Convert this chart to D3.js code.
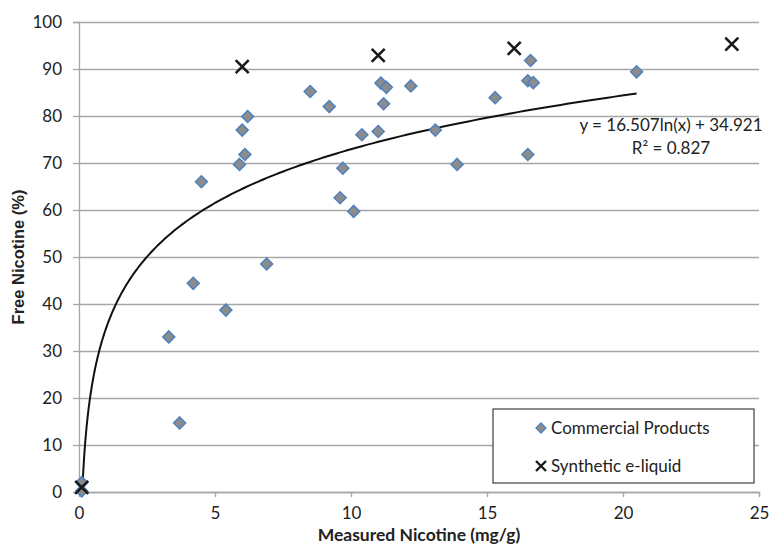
<!DOCTYPE html>
<html>
<head>
<meta charset="utf-8">
<script src="https://cdn.jsdelivr.net/npm/d3@7"></script>
<style>
  body { margin: 0; background: #fff; }
  text { font-family: Lato, "Open Sans", sans-serif; fill: #222; }
</style>
</head>
<body>
<div id="chart"></div>
<script>
// commercial products, measured vs free nicotine
var commercialX = [0.1, 0.1, 3.3, 3.7, 4.2, 4.5, 5.4, 5.9, 6.0, 6.1, 6.2, 6.9, 8.5, 9.2, 9.6, 9.7,
  10.1, 10.4, 11.0, 11.1, 11.2, 11.3, 12.2, 13.1, 13.9, 15.3, 16.5, 16.5, 16.6, 16.7, 20.5];
var commercialY = [2.0, 0.2, 33.0, 14.7, 44.4, 66.0, 38.7, 69.7, 77.0, 71.8, 79.9, 48.5, 85.2, 82.0, 62.6, 68.9,
  59.7, 76.0, 76.7, 87.0, 82.6, 86.1, 86.4, 77.0, 69.7, 83.9, 87.5, 71.8, 91.8, 87.1, 89.4];

var syntheticX = [0.1, 6.0, 11.0, 16.0, 24.0];
var syntheticY = [1.0, 90.5, 92.9, 94.4, 95.3];

// log trendline reported on the chart
var trendA = 16.507;
var trendB = 34.921;
var trendR2 = "0.827";

var xTicks = [0, 5, 10, 15, 20, 25];
var yTicks = [0, 10, 20, 30, 40, 50, 60, 70, 80, 90, 100];

var width = 769;
var height = 544;
var margin = {top: 22, right: 10, bottom: 52, left: 79};

var svg = d3.select("#chart").append("svg")
  .attr("width", width)
  .attr("height", height);

var x = d3.scaleLinear().domain([0, 25]).range([margin.left, width - margin.right]);
var y = d3.scaleLinear().domain([0, 100]).range([height - margin.bottom, margin.top]);

var gridColor = "#a6a6a6";

// horizontal gridlines + y ticks
svg.append("g")
  .attr("transform", "translate(" + margin.left + ",0)")
  .call(d3.axisLeft(y).tickValues(yTicks).tickSize(6).tickPadding(11))
  .call(function(g) {
    g.select(".domain").attr("stroke", gridColor).attr("stroke-width", 1.3);
    g.selectAll(".tick line").attr("stroke", gridColor).attr("stroke-width", 1.3);
    g.selectAll(".tick").append("line")
      .attr("x1", 0).attr("x2", x(25) - margin.left)
      .attr("stroke", gridColor).attr("stroke-width", 1.3);
    g.selectAll("text").attr("font-size", 17).attr("fill", "#222");
  });

svg.append("g")
  .attr("transform", "translate(0," + y(0) + ")")
  .call(d3.axisBottom(x).tickValues(xTicks).tickSize(5).tickPadding(10))
  .call(function(g) {
    g.select(".domain").attr("stroke", gridColor).attr("stroke-width", 1.3);
    g.selectAll(".tick line").attr("stroke", gridColor).attr("stroke-width", 1.3);
    g.selectAll("text").attr("font-size", 17).attr("fill", "#222");
  });

// axis titles
svg.append("text")
  .attr("x", x(12.5))
  .attr("y", 541)
  .attr("text-anchor", "middle")
  .attr("font-size", 17.5)
  .attr("font-weight", "bold")
  .text("Measured Nicotine (mg/g)");

svg.append("text")
  .attr("transform", "translate(24," + y(50) + ") rotate(-90)")
  .attr("text-anchor", "middle")
  .style("font-family", "'Liberation Sans', Arial, sans-serif")
  .attr("font-size", 16.5)
  .attr("font-weight", "bold")
  .text("Free Nicotine (%)");

// trendline, clipped to plot area
svg.append("clipPath").attr("id", "plotclip")
  .append("rect")
  .attr("x", x(0)).attr("y", y(100))
  .attr("width", x(25) - x(0)).attr("height", y(0) - y(100));

var xmin = d3.min(commercialX), xmax = d3.max(commercialX);
var trendPts = d3.range(0, 401).map(function(i) {
  var t = i / 400;
  // denser sampling near zero where the curve is steep
  var xv = xmin * Math.pow(xmax / xmin, t);
  return [xv, trendA * Math.log(xv) + trendB];
});

svg.append("path")
  .datum(trendPts)
  .attr("clip-path", "url(#plotclip)")
  .attr("fill", "none")
  .attr("stroke", "#111")
  .attr("stroke-width", 2)
  .attr("d", d3.line().x(function(d) { return x(d[0]); }).y(function(d) { return y(d[1]); }));

svg.append("text")
  .attr("x", 671).attr("y", 131)
  .attr("text-anchor", "middle")
  .attr("font-size", 17)
  .text("y = " + trendA + "ln(x) + " + trendB);

svg.append("text")
  .attr("x", 671).attr("y", 154)
  .attr("text-anchor", "middle")
  .attr("font-size", 17)
  .text("R² = " + trendR2);

// diamonds
var diamond = function(s) {
  return "M0," + (-s) + "L" + s + ",0L0," + s + "L" + (-s) + ",0Z";
};
var commercial = commercialX.map(function(d, i) { return [d, commercialY[i]]; });
var synthetic = syntheticX.map(function(d, i) { return [d, syntheticY[i]]; });

svg.append("g").selectAll("path")
  .data(commercial)
  .enter().append("path")
  .attr("transform", function(d) { return "translate(" + x(d[0]) + "," + y(d[1]) + ")"; })
  .attr("d", diamond(6))
  .attr("fill", "#8c8c8c")
  .attr("stroke", "#4f81bd")
  .attr("stroke-width", 1.5);

var cross = function(s) {
  return "M" + (-s) + "," + (-s) + "L" + s + "," + s + "M" + (-s) + "," + s + "L" + s + "," + (-s);
};

svg.append("g").selectAll("path")
  .data(synthetic)
  .enter().append("path")
  .attr("transform", function(d) { return "translate(" + x(d[0]) + "," + y(d[1]) + ")"; })
  .attr("d", cross(6.5))
  .attr("fill", "none")
  .attr("stroke", "#1a1a1a")
  .attr("stroke-width", 2.6);

// legend
var legend = svg.append("g").attr("transform", "translate(493,409)");
legend.append("rect")
  .attr("width", 261).attr("height", 74)
  .attr("fill", "#fff")
  .attr("stroke", "#404040")
  .attr("stroke-width", 1.2);

legend.append("path")
  .attr("transform", "translate(48,19)")
  .attr("d", diamond(5))
  .attr("fill", "#8c8c8c")
  .attr("stroke", "#4f81bd")
  .attr("stroke-width", 1.3);
legend.append("text")
  .attr("x", 58).attr("y", 25)
  .attr("font-size", 17)
  .text("Commercial Products");

legend.append("path")
  .attr("transform", "translate(48,57)")
  .attr("d", cross(5))
  .attr("fill", "none")
  .attr("stroke", "#1a1a1a")
  .attr("stroke-width", 2.4);
legend.append("text")
  .attr("x", 58).attr("y", 63)
  .attr("font-size", 17)
  .text("Synthetic e-liquid");
</script>
</body>
</html>
